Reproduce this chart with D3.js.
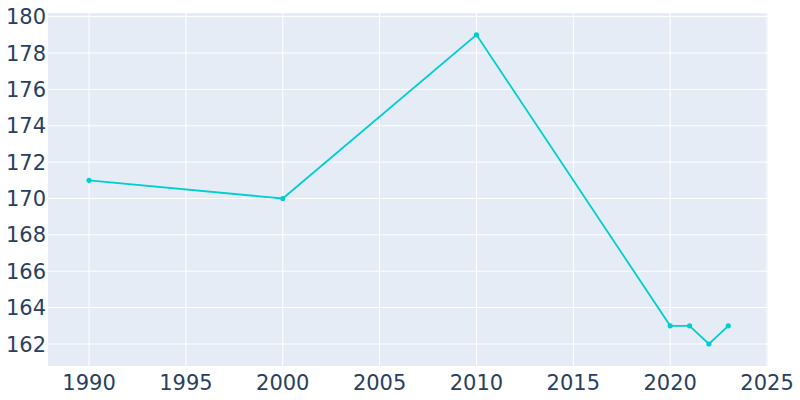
<!DOCTYPE html>
<html><head><meta charset="utf-8">
<script src="https://cdn.jsdelivr.net/npm/d3@7"></script>
<style>body{margin:0;background:#fff}svg{display:block}</style>
</head><body>
<svg id="c" width="800" height="400"></svg>
<script>
const years = [1990, 2000, 2010, 2020, 2021, 2022, 2023];
const population = [171, 170, 179, 163, 163, 162, 163];
const xTicks = [1990, 1995, 2000, 2005, 2010, 2015, 2020, 2025];
const yTicks = [162, 164, 166, 168, 170, 172, 174, 176, 178, 180];

const svg = d3.select("#c");
const L = 48, R = 768, T = 13, B = 366;
const x = d3.scaleLinear().domain([1987.88, 2025.05]).range([L, R]);
const y = d3.scaleLinear().domain([160.79, 180.2]).range([B, T]);

svg.append("rect").attr("x", L).attr("y", T).attr("width", R - L).attr("height", B - T).attr("fill", "#e5ecf6");

const g = svg.append("g");
g.selectAll(".vg").data(xTicks).join("line")
  .attr("x1", d => x(d)).attr("x2", d => x(d)).attr("y1", T).attr("y2", B)
  .attr("stroke", "#fff").attr("stroke-width", 1);
g.selectAll(".hg").data(yTicks).join("line")
  .attr("x1", L).attr("x2", R).attr("y1", d => y(d)).attr("y2", d => y(d))
  .attr("stroke", "#fff").attr("stroke-width", 1);

const font = "'DejaVu Sans', sans-serif";
svg.selectAll(".xt").data(xTicks).join("text")
  .attr("x", d => x(d)).attr("y", 390).attr("text-anchor", "middle")
  .attr("font-family", font).attr("font-size", 21).attr("fill", "#2a3f5f")
  .text(d => d);
svg.selectAll(".yt").data(yTicks).join("text")
  .attr("x", 46).attr("y", d => y(d)).attr("dy", "0.36em").attr("text-anchor", "end")
  .attr("font-family", font).attr("font-size", 21).attr("fill", "#2a3f5f")
  .text(d => d);

const data = years.map((d, i) => ({ x: d, y: population[i] }));
svg.append("path").datum(data)
  .attr("d", d3.line().x(d => x(d.x)).y(d => y(d.y)))
  .attr("fill", "none").attr("stroke", "#00ced1").attr("stroke-width", 1.8);
svg.selectAll(".pt").data(data).join("circle")
  .attr("cx", d => x(d.x)).attr("cy", d => y(d.y)).attr("r", 2.6)
  .attr("fill", "#00ced1");
</script>
</body></html>
